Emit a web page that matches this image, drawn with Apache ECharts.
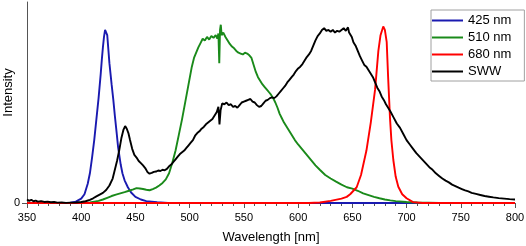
<!DOCTYPE html>
<html><head><meta charset="utf-8">
<script src="https://cdn.jsdelivr.net/npm/echarts@6/dist/echarts.min.js"></script>
<style>html,body{margin:0;padding:0;background:#fff}#c{width:526px;height:246px}</style>
</head><body><div id="c"></div>
<script>
const xTicks = [350, 400, 450, 500, 550, 600, 650, 700, 750, 800];
const seriesNames = ['425 nm', '510 nm', '680 nm', 'SWW'];

const wl425 = [350,380,390,395,400,403,406,408,410,412,414,416,418,419,420,421,422,423,424,425,426,427,428,429.6,431,432.7,434,436.4,438,440,443,446,450,455,460,470,480,500,800];
const int425 = [0,0,0.002,0.008,0.025,0.05,0.11,0.17,0.26,0.36,0.48,0.6,0.74,0.82,0.89,0.95,0.99,0.995,0.96,0.88,0.8,0.74,0.68,0.59,0.5,0.4,0.32,0.22,0.17,0.13,0.09,0.06,0.035,0.02,0.011,0.004,0.001,0,0];

const wl510 = [350,400,408,412,416,420,424,428,432,436,440,444,448,451,454,457,460,463,466,469,472,475,478,481,484,487,490,493,496,499,502,504,506,508,510,512,514,516,518,520,522,524,525.5,526.5,527.3,528,528.7,529.5,531,533,535,537,539,541,543,545,547,549,551,553,555,557,559,561,563,565,567,569,571,573,575,577,579,581,583,585,587,589,591,594,597,600,604,608,612,616,620,625,630,635,640,645,650,655,660,665,670,675,680,685,690,700,710,730,800];
const int510 = [0,0,0.003,0.008,0.012,0.02,0.03,0.04,0.048,0.055,0.062,0.07,0.078,0.085,0.083,0.08,0.076,0.073,0.08,0.088,0.1,0.115,0.135,0.17,0.23,0.3,0.39,0.48,0.58,0.68,0.78,0.83,0.86,0.89,0.915,0.94,0.93,0.95,0.935,0.955,0.945,0.96,0.94,0.97,0.8,0.99,1.02,0.96,0.975,0.95,0.93,0.91,0.895,0.885,0.87,0.86,0.855,0.85,0.86,0.855,0.845,0.83,0.79,0.75,0.72,0.7,0.68,0.665,0.65,0.635,0.62,0.6,0.575,0.545,0.51,0.485,0.46,0.44,0.42,0.39,0.36,0.335,0.305,0.275,0.245,0.215,0.19,0.16,0.14,0.122,0.105,0.09,0.082,0.07,0.055,0.045,0.035,0.027,0.02,0.015,0.011,0.006,0.003,0.001,0];

const wl680 = [350,610,620,630,640,644.8,648,651,654,658,663,667,671,674,676,678.5,680,681.7,683,684.7,686,687.8,690,692.4,696,700,706,715,800];
const int680 = [0,0,0.003,0.012,0.025,0.035,0.05,0.07,0.09,0.16,0.3,0.46,0.65,0.87,0.96,1.01,0.99,0.92,0.72,0.49,0.36,0.246,0.15,0.093,0.05,0.027,0.005,0,0];

const wlSWW = [350,352,354,356,358,360,363,366,369,372,375,378,382,386,390,395,400,404,408,411,414,417,420,423,426,429,431,433,435,437,439,440.5,442,443.5,445,447,449,451,453,455,457,459,461,463,465,467,469,471,473,475,477,479,481,483,485,487,489,491,493,495,497,499,501,503,505,507,509,511,513,515,517,519,521,523,525,526.5,527.5,528.5,530,532,534,536,538,540,542,544,546,548,550,552,554,556,558,560,562,564,566,568,570,572,574,576,578,580,582,584,586,588,590,592,594,596,598,600,602,604,606,608,610,612,614,616,618,620,622,624,626,628,630,632,634,636,638,640,642,644,646,647,648,649.5,651,653,655,657,659,661,663,665,667,669,671,673,675,677,679,681,683,685,688,691,694,697,700,703,706,709,712,715,718,721,724,727,730,733,736,739,742,745,748,751,754,757,760,764,768,772,776,780,785,790,795,800];
const intSWW = [0.02,0.012,0.018,0.01,0.014,0.008,0.011,0.006,0.008,0.004,0.006,0.002,0.003,0.001,0.002,0.003,0.006,0.01,0.018,0.027,0.038,0.048,0.058,0.074,0.1,0.14,0.19,0.24,0.3,0.37,0.42,0.44,0.425,0.4,0.36,0.31,0.275,0.26,0.24,0.228,0.215,0.2,0.178,0.168,0.172,0.178,0.18,0.186,0.183,0.19,0.187,0.195,0.21,0.22,0.235,0.25,0.265,0.28,0.29,0.3,0.315,0.33,0.345,0.36,0.385,0.4,0.41,0.425,0.435,0.45,0.46,0.47,0.48,0.5,0.52,0.55,0.45,0.53,0.57,0.565,0.575,0.56,0.565,0.55,0.555,0.545,0.56,0.575,0.58,0.585,0.59,0.595,0.58,0.575,0.56,0.55,0.555,0.57,0.585,0.59,0.6,0.605,0.6,0.61,0.625,0.64,0.655,0.67,0.69,0.705,0.72,0.735,0.755,0.77,0.78,0.795,0.815,0.835,0.85,0.87,0.9,0.93,0.955,0.97,0.99,1.0,0.985,0.99,0.98,0.99,0.975,0.985,0.98,0.99,1.0,0.985,1.005,0.975,0.98,0.95,0.92,0.9,0.87,0.84,0.815,0.79,0.78,0.76,0.74,0.72,0.69,0.66,0.64,0.61,0.59,0.565,0.545,0.525,0.49,0.455,0.43,0.395,0.36,0.335,0.31,0.285,0.265,0.245,0.225,0.205,0.19,0.17,0.155,0.14,0.128,0.118,0.105,0.097,0.088,0.08,0.072,0.066,0.058,0.052,0.046,0.04,0.036,0.032,0.028,0.025,0.022,0.02];

const colors = ['#1a1ab0', '#1a8a1a', '#ff0000', '#000000'];
const wls = [wl425, wl510, wl680, wlSWW];
const ints = [int425, int510, int680, intSWW];
const FONT = 'Liberation Sans, Arial, sans-serif';

const chart = echarts.init(document.getElementById('c'), null, {renderer: 'canvas'});
chart.setOption({
  animation: false,
  backgroundColor: '#fff',
  grid: {left: 27, right: 11, top: 2, bottom: 43, containLabel: false, outerBoundsMode: 'none'},
  legend: {
    orient: 'vertical', left: 431, top: 10,
    padding: [3, 13, 2, 1], itemGap: 2, itemWidth: 31, itemHeight: 2,
    icon: 'rect',
    borderColor: '#a0a0a0', borderWidth: 1, backgroundColor: '#fff',
    textStyle: {fontFamily: FONT, fontSize: 13, color: '#000', lineHeight: 15},
    data: seriesNames
  },
  xAxis: {
    type: 'value', min: xTicks[0], max: xTicks[xTicks.length - 1], interval: 50,
    name: 'Wavelength [nm]', nameLocation: 'middle', nameGap: 28, nameMoveOverlap: false,
    nameTextStyle: {fontFamily: FONT, fontSize: 13, color: '#000'},
    axisLine: {show: true, lineStyle: {color: '#555', width: 1}},
    axisTick: {show: true, inside: false, length: 5, lineStyle: {color: '#555'}},
    minorTick: {show: true, splitNumber: 5, length: 3, lineStyle: {color: '#555'}},
    axisLabel: {fontFamily: FONT, fontSize: 11, color: '#000', margin: 9},
    splitLine: {show: false}
  },
  yAxis: {
    type: 'value', min: 0, max: 1.15,
    name: 'Intensity', nameLocation: 'middle', nameGap: 12, nameMoveOverlap: false,
    nameTextStyle: {fontFamily: FONT, fontSize: 13, color: '#000', padding: [0, 0, 0, 20]},
    axisLine: {show: true, lineStyle: {color: '#555', width: 1}},
    axisTick: {show: true, length: 5, customValues: [0], lineStyle: {color: '#555'}},
    axisLabel: {fontFamily: FONT, fontSize: 11, color: '#000', margin: 7, customValues: [0]},
    splitLine: {show: false}
  },
  series: seriesNames.map((n, i) => ({
    name: n, type: 'line', showSymbol: false, symbol: 'none',
    lineStyle: {color: colors[i], width: 1.9},
    itemStyle: {color: colors[i]},
    data: wls[i].map((w, j) => [w, ints[i][j]])
  }))
});
</script></body></html>
